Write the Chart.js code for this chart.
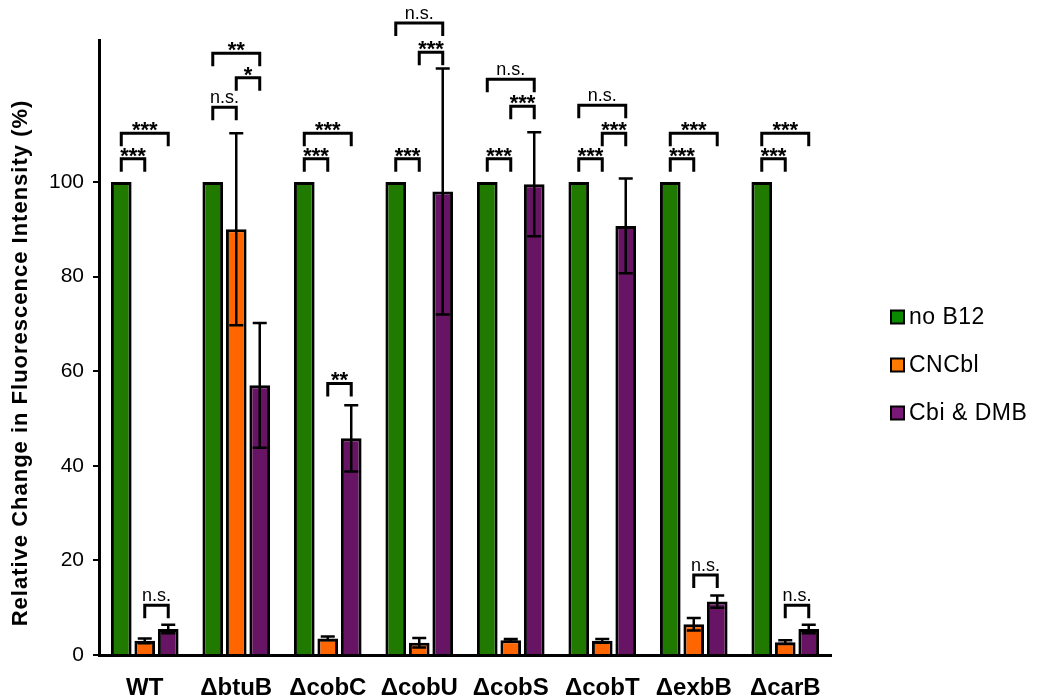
<!DOCTYPE html>
<html>
<head>
<meta charset="utf-8">
<script src="https://cdn.jsdelivr.net/npm/chart.js@4.4.1/dist/chart.umd.min.js"></script>
<style>
  html, body { margin: 0; padding: 0; background: #fff; }
</style>
</head>
<body>
<canvas id="b12Chart" width="1047" height="698"></canvas>
<script>
const strains = ['WT', 'ΔbtuB', 'ΔcobC', 'ΔcobU', 'ΔcobS', 'ΔcobT', 'ΔexbB', 'ΔcarB'];

const noB12 = [100, 100, 100, 100, 100, 100, 100, 100];
const noB12Err = [0, 0, 0, 0, 0, 0, 0, 0];
const cncbl = [3.0, 90.0, 3.5, 2.6, 3.1, 3.0, 6.5, 2.7];
const cncblErr = [0.5, 20.3, 0.4, 1.0, 0.3, 0.4, 1.3, 0.4];
const cbiDmb = [5.5, 57.0, 45.8, 98.0, 99.5, 90.7, 11.3, 5.5];
const cbiDmbErr = [0.9, 13.2, 7.0, 26.0, 11.0, 10.0, 1.3, 0.9];

const yTicks = [0, 20, 40, 60, 80, 100];

// significance brackets: [strain, left series, right series, height in %, label]
const brackets = [
  [0, 0, 1, 104.9, '***'], [0, 0, 2, 110.3, '***'], [0, 1, 2, 10.5, 'n.s.'],
  [1, 0, 1, 115.8, 'n.s.'], [1, 1, 2, 122.0, '*'], [1, 0, 2, 127.2, '**'],
  [2, 0, 1, 104.9, '***'], [2, 0, 2, 110.3, '***'], [2, 1, 2, 57.4, '**'],
  [3, 0, 1, 104.9, '***'], [3, 1, 2, 127.4, '***'], [3, 0, 2, 133.6, 'n.s.'],
  [4, 0, 1, 104.9, '***'], [4, 1, 2, 116.0, '***'], [4, 0, 2, 121.7, 'n.s.'],
  [5, 0, 1, 104.9, '***'], [5, 1, 2, 110.3, '***'], [5, 0, 2, 116.2, 'n.s.'],
  [6, 0, 1, 104.9, '***'], [6, 0, 2, 110.3, '***'], [6, 1, 2, 16.9, 'n.s.'],
  [7, 0, 1, 104.9, '***'], [7, 0, 2, 110.3, '***'], [7, 1, 2, 10.5, 'n.s.']
];

const errors = [noB12Err, cncblErr, cbiDmbErr];
const FONT = 'Arial, "Liberation Sans", sans-serif';

const errorBars = {
  id: 'errorBars',
  afterDatasetsDraw(chart) {
    const {ctx, scales: {y}} = chart;
    ctx.save();
    ctx.strokeStyle = '#000';
    ctx.lineWidth = 2.5;
    chart.data.datasets.forEach((ds, i) => {
      const meta = chart.getDatasetMeta(i);
      meta.data.forEach((bar, j) => {
        const e = errors[i][j];
        if (!e) return;
        const top = y.getPixelForValue(ds.data[j] + e);
        const bot = y.getPixelForValue(ds.data[j] - e);
        const half = 7;
        ctx.beginPath();
        ctx.moveTo(bar.x, top);
        ctx.lineTo(bar.x, bot);
        ctx.moveTo(bar.x - half, top);
        ctx.lineTo(bar.x + half, top);
        ctx.moveTo(bar.x - half, bot);
        ctx.lineTo(bar.x + half, bot);
        ctx.stroke();
      });
    });
    ctx.restore();
  }
};

const sigBrackets = {
  id: 'sigBrackets',
  afterDraw(chart) {
    const {ctx, scales: {y}} = chart;
    ctx.save();
    ctx.strokeStyle = '#000';
    ctx.fillStyle = '#000';
    ctx.lineWidth = 3;
    ctx.textAlign = 'center';
    ctx.textBaseline = 'alphabetic';
    brackets.forEach(([g, a, b, level, label]) => {
      const x1 = chart.getDatasetMeta(a).data[g].x;
      const x2 = chart.getDatasetMeta(b).data[g].x;
      const yy = y.getPixelForValue(level);
      ctx.beginPath();
      ctx.moveTo(x1, yy + 13);
      ctx.lineTo(x1, yy);
      ctx.lineTo(x2, yy);
      ctx.lineTo(x2, yy + 13);
      ctx.stroke();
      if (label === 'n.s.') {
        ctx.font = '18px ' + FONT;
        ctx.fillText(label, (x1 + x2) / 2, yy - 4);
      } else {
        // sit the star glyphs right on top of the bracket line
        ctx.font = 'bold 22px ' + FONT;
        const m = ctx.measureText(label);
        ctx.fillText(label, (x1 + x2) / 2, yy - 2 - m.actualBoundingBoxDescent);
      }
    });
    ctx.restore();
  }
};

const sideDecor = {
  id: 'sideDecor',
  afterDraw(chart) {
    const {ctx} = chart;
    ctx.save();
    // y axis title
    ctx.translate(21, 363);
    ctx.rotate(-Math.PI / 2);
    ctx.font = 'bold 22px ' + FONT;
    ctx.letterSpacing = '1px';
    ctx.fillStyle = '#000';
    ctx.textAlign = 'center';
    ctx.textBaseline = 'middle';
    ctx.fillText('Relative Change in Fluorescence Intensity (%)', 0, 0);
    ctx.restore();

    // legend
    ctx.save();
    ctx.font = '23px ' + FONT;
    ctx.letterSpacing = '0.5px';
    ctx.textBaseline = 'middle';
    ctx.textAlign = 'left';
    chart.data.datasets.forEach((ds, i) => {
      const cy = 317 + i * 48;
      ctx.fillStyle = ds.legendColor;
      ctx.fillRect(891, cy - 6.5, 13, 13);
      ctx.strokeStyle = '#000';
      ctx.lineWidth = 2;
      ctx.strokeRect(891, cy - 6.5, 13, 13);
      ctx.fillStyle = '#000';
      ctx.fillText(ds.label, 909, cy + 1);
    });
    ctx.restore();
  }
};

const barStyle = {
  borderColor: '#000',
  borderWidth: 3,
  categoryPercentage: 0.77,
  barPercentage: 0.88
};

new Chart(document.getElementById('b12Chart'), {
  type: 'bar',
  data: {
    labels: strains,
    datasets: [
      {label: 'no B12', data: noB12, backgroundColor: '#217a00', legendColor: '#0a8a00', ...barStyle},
      {label: 'CNCbl', data: cncbl, backgroundColor: '#ff6600', legendColor: '#ff7a00', ...barStyle},
      {label: 'Cbi & DMB', data: cbiDmb, backgroundColor: '#661463', legendColor: '#7a1878', ...barStyle}
    ]
  },
  options: {
    responsive: false,
    animation: false,
    layout: {padding: {left: 0, right: 216, top: 40, bottom: 0}},
    plugins: {
      legend: {display: false},
      tooltip: {enabled: false}
    },
    scales: {
      x: {
        grid: {display: false, drawTicks: false},
        border: {color: '#000', width: 3},
        ticks: {
          color: '#000',
          padding: 19,
          font: {family: FONT, size: 24, weight: 'bold'}
        },
        afterFit(scale) { scale.height = 43; }
      },
      y: {
        min: 0,
        max: 130,
        afterBuildTicks(scale) { scale.ticks = yTicks.map(v => ({value: v})); },
        grid: {drawOnChartArea: false, color: '#000', lineWidth: 2, tickLength: 6},
        border: {color: '#000', width: 3},
        ticks: {
          color: '#000',
          padding: 9,
          font: {family: FONT, size: 21}
        },
        afterFit(scale) { scale.width = 99; }
      }
    }
  },
  plugins: [errorBars, sigBrackets, sideDecor]
});
</script>
</body>
</html>
